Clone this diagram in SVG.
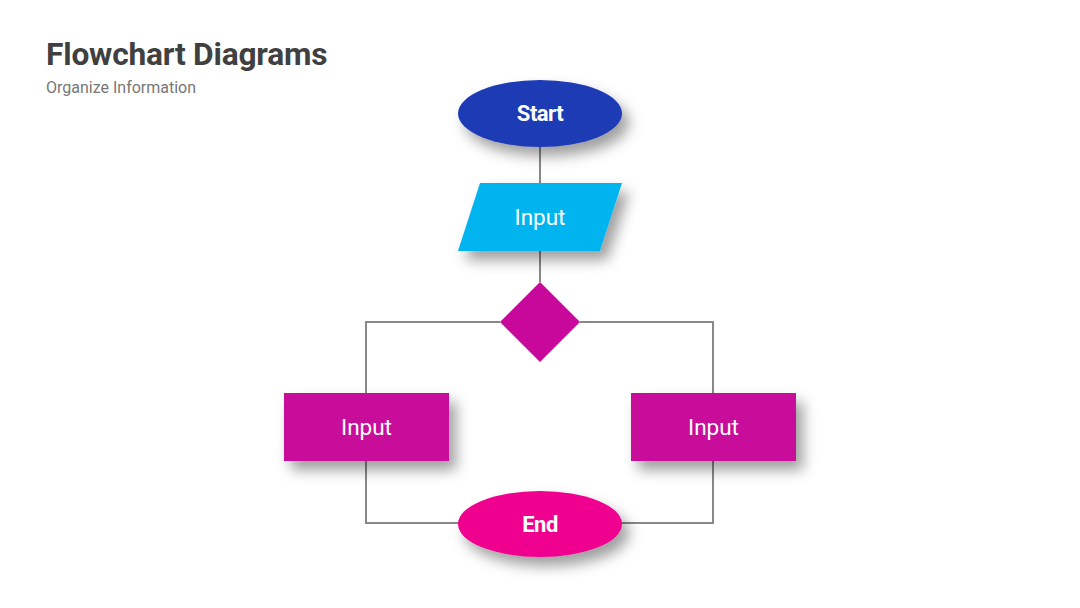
<svg xmlns="http://www.w3.org/2000/svg" width="1080" height="608" viewBox="0 0 1080 608">
<defs>
<filter id="sh" x="-30%" y="-30%" width="170%" height="190%">
<feDropShadow dx="7" dy="9" stdDeviation="7" flood-color="#000" flood-opacity="0.38"/>
</filter>
<style>
.conn{fill:none;stroke:#888;stroke-width:2}
.lbl{font-family:Roboto,"Liberation Sans",sans-serif;fill:#fff;text-anchor:middle}
.b{font-weight:bold;font-size:22px;letter-spacing:-0.5px}
.r{font-size:22.5px}
.mag{fill:#C8089A}
</style>
</defs>
<rect width="1080" height="608" fill="#fff"/>
<text x="46" y="65" font-family="Roboto,'Liberation Sans',sans-serif" font-weight="bold" font-size="31.7" fill="#404040" letter-spacing="-0.2">Flowchart Diagrams</text>
<text x="46" y="93" font-family="Roboto,'Liberation Sans',sans-serif" font-size="16" fill="#777">Organize Information</text>
<g id="connectors">
<path class="conn" d="M540 147V183"/>
<path class="conn" d="M540 251V282"/>
<path class="conn" d="M500 322H366V393"/>
<path class="conn" d="M580 322H713V393"/>
<path class="conn" d="M366 461V523H458"/>
<path class="conn" d="M713 461V523H622"/>
</g>
<g id="start">
<ellipse cx="540" cy="113.5" rx="82" ry="33.5" fill="#1F3AB5" filter="url(#sh)"/>
<text class="lbl b" x="540" y="121">Start</text>
</g>
<g id="input-top">
<polygon points="480,183 622,183 600,251 458,251" fill="#00B5EF" filter="url(#sh)"/>
<text class="lbl r" x="540" y="224.5">Input</text>
</g>
<g id="decision">
<polygon class="mag" points="540,282 580,322 540,362 500,322"/>
</g>
<g id="input-left">
<rect class="mag" x="284" y="393" width="165" height="68" filter="url(#sh)"/>
<text class="lbl r" x="366.5" y="434.5">Input</text>
</g>
<g id="input-right">
<rect class="mag" x="631" y="393" width="165" height="68" filter="url(#sh)"/>
<text class="lbl r" x="713.5" y="434.5">Input</text>
</g>
<g id="end">
<ellipse cx="540" cy="524" rx="82" ry="33" fill="#F0068E" filter="url(#sh)"/>
<text class="lbl b" x="540" y="531.5">End</text>
</g>
</svg>
